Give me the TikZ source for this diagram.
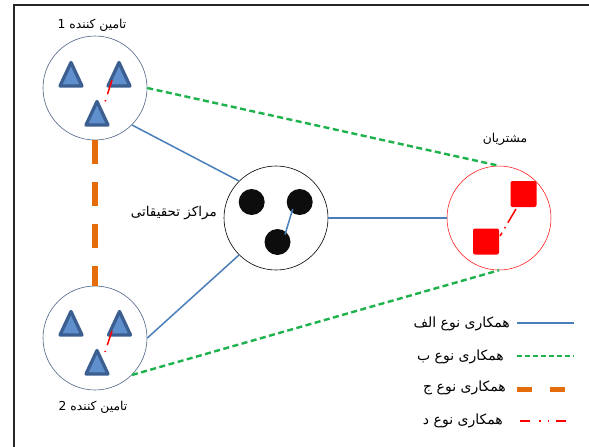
\documentclass[tikz,border=0pt]{standalone}
\usepackage{fontspec}
\newfontfamily\arabicfont[Script=Arabic]{DejaVu Sans}
\TeXXeTstate=1
\usetikzlibrary{calc}
\definecolor{lblue}{HTML}{4A7EBB}
\definecolor{lgreen}{HTML}{1DB24B}
\definecolor{lorange}{HTML}{E46C0A}
\definecolor{lred}{HTML}{FF0000}
\definecolor{tridark}{HTML}{3B5F90}
\definecolor{trifill}{HTML}{5F8FCC}
\definecolor{circgray}{HTML}{4F6585}
\tikzset{
  big/.style={circle, inner sep=0pt, minimum size=104pt, line width=0.6pt},
  tristyle/.style={draw=tridark, fill=trifill, line width=3.3pt, line join=round},
  dot/.style={circle, fill=black!95, inner sep=0pt, minimum size=26pt},
  sq/.style={rectangle, fill=lred, rounded corners=2pt, inner sep=0pt, minimum size=26pt},
  lbl/.style={font=\arabicfont\fontsize{12.3}{14}\selectfont, inner sep=0pt},
  leg/.style={font=\arabicfont\fontsize{14}{16}\selectfont, inner sep=0pt},
  typeA/.style={draw=lblue, line width=1.5pt},
  typeB/.style={draw=lgreen, line width=2.4pt, dash pattern=on 6pt off 3.5pt},
  typeC/.style={draw=lorange, line width=5.5pt, dash pattern=on 24pt off 18pt},
  typeD/.style={draw=lred, line width=1.5pt, dash pattern=on 15pt off 6pt on 1.5pt off 6pt},
}
\newcommand\tri[3]{\coordinate (#1) at (#2,#3);
  \draw[tristyle, shift={(#1)}] (-11,8) -- (0,-15.5) -- (11,8) -- cycle;}
\begin{document}
\begin{tikzpicture}[x=1pt,y=-1pt]
\useasboundingbox (0,0) rectangle (589,447);
\fill[white] (0,0) rectangle (589,447);
% frame
\coordinate (fa) at (14,447);
\coordinate (fb) at (14,5);
\coordinate (fc) at (589,5);
\draw[line width=2pt, black!85] (fa) -- (fb) -- (fc);

% big circles
\node[big, draw=circgray] (s1) at (95,88) {};
\node[big, draw=circgray] (s2) at (95,338) {};
\node[big, draw=black] (c) at (276,218) {};
\node[big, draw=lred, line width=0.5pt] (cu) at (499,218) {};

% connectors
\draw[typeA] (s1.-45) -- (c.135);
\draw[typeA] (s2.east) -- (c.225);
\draw[typeA] (c.east) -- (cu.west);
\draw[typeB] (s1.east) -- (cu.north);
\draw[typeB] (s2.-45) -- (cu.south);
\draw[typeC] (s1.south) -- (s2.north);

% supplier 1 triangles
\tri{t1l}{71}{78}
\tri{t1r}{119}{78}
\tri{t1b}{97}{117}
\coordinate (d1a) at (112,80);
\coordinate (d1b) at (105,102);
\draw[typeD] (d1a) -- (d1b);

% supplier 2 triangles
\tri{t2l}{71}{327}
\tri{t2r}{119.5}{327}
\tri{t2b}{97}{366}
\coordinate (d2a) at (112,331);
\coordinate (d2b) at (105,352);
\draw[typeD] (d2a) -- (d2b);

% research centre dots
\node[dot] (k1) at (251.7,202) {};
\node[dot] (k2) at (299.7,202) {};
\node[dot] (k3) at (277.5,242) {};
\draw[typeA] ($(k2.center)+(-7,7)$) -- ($(k3.center)+(7.5,-7.5)$);

% customers squares
\node[sq] (q1) at (523.5,194) {};
\node[sq] (q2) at (486,241.5) {};
\coordinate (d3a) at (516,209);
\coordinate (d3b) at (500,236);
\draw[typeD, dash pattern=on 16pt off 5pt on 1.5pt off 5pt] (d3a) -- (d3b);

% labels
\node[lbl] (l1) at (92,25) {\beginR تامین کننده 1\endR};
\node[lbl] (l2) at (93,407) {\beginR تامین کننده 2\endR};
\node[lbl, font=\arabicfont\fontsize{13.5}{15}\selectfont, anchor=east] (l3) at (217,213) {\beginR مراکز تحقیقاتی\endR};
\node[lbl] (l4) at (505,139) {\beginR مشتریان\endR};

% legend
\node[leg, anchor=east] (g1) at (510,324) {\beginR همکاری نوع الف\endR};
\node[leg, anchor=east] (g2) at (504,357) {\beginR همکاری نوع ب\endR};
\node[leg, anchor=east] (g3) at (506,388) {\beginR همکاری نوع ج\endR};
\node[leg, anchor=east] (g4) at (503,421) {\beginR همکاری نوع د\endR};
\coordinate (ga1) at (517,323); \coordinate (gb1) at (574,323);
\coordinate (ga2) at (517,356); \coordinate (gb2) at (574,356);
\coordinate (ga3) at (517,389); \coordinate (gb3) at (574,389);
\coordinate (ga4) at (520,421); \coordinate (gb4) at (574,421);
\draw[typeA] (ga1) -- (gb1);
\draw[typeB, line width=1.5pt, dash pattern=on 5pt off 3pt] (ga2) -- (gb2);
\draw[typeC, line width=5pt, dash pattern=on 15pt off 18pt] (ga3) -- (gb3);
\draw[typeD, dash pattern=on 10pt off 9pt on 1.5pt off 7pt on 1.5pt off 7pt] (ga4) -- (gb4);
\end{tikzpicture}
\end{document}
